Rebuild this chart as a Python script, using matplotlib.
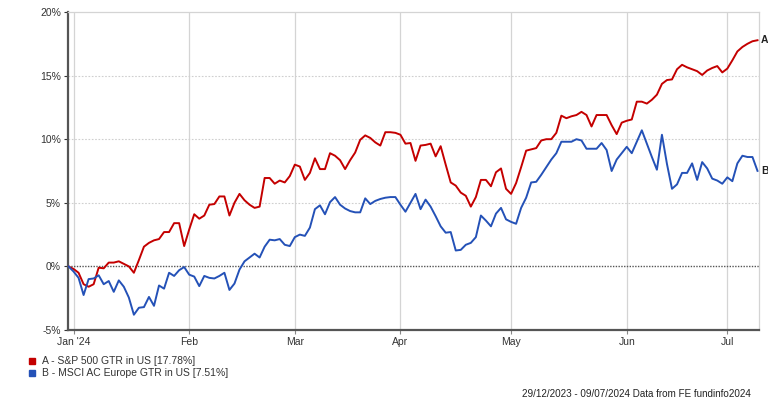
import numpy as np
import pandas as pd
import matplotlib
matplotlib.use('Agg')
import matplotlib.pyplot as plt
from matplotlib.patches import Rectangle

plt.rcParams['font.family'] = ['Liberation Sans', 'DejaVu Sans']

# weekday series, 29/12/2023 .. 09/07/2024
dates = pd.bdate_range('2023-12-29', '2024-07-09')

sp500 = [
    0.0, -0.2, -0.5, -1.4, -1.6, -1.4, -0.1, -0.15, 0.3, 0.3,
    0.4, 0.2, 0.0, -0.5, 0.5, 1.55, 1.85, 2.05, 2.15, 2.7,
    2.7, 3.4, 3.4, 1.6, 2.9, 4.1, 3.75, 4.0, 4.85, 4.9,
    5.5, 5.5, 4.0, 5.0, 5.7, 5.2, 4.85, 4.6, 4.7, 6.95,
    6.95, 6.5, 6.75, 6.6, 7.1, 8.0, 7.85, 6.8, 7.35, 8.5,
    7.65, 7.65, 8.9, 8.7, 8.35, 7.65, 8.35, 8.95, 9.95, 10.3,
    10.1, 9.75, 9.5, 10.55, 10.55, 10.5, 10.35, 9.65, 9.7, 8.3,
    9.5, 9.55, 9.65, 8.65, 9.45, 8.0, 6.6, 6.35, 5.8, 5.55,
    4.7, 5.45, 6.8, 6.8, 6.3, 7.4, 7.7, 6.1, 5.7, 6.55,
    7.8, 9.1, 9.2, 9.3, 9.9, 10.0, 10.0, 10.5, 11.85, 11.65,
    11.8, 11.9, 12.15, 11.9, 11.0, 11.9, 11.9, 11.9, 11.1, 10.4,
    11.3, 11.45, 11.55, 12.95, 12.95, 12.8, 13.1, 13.5, 14.35, 14.65,
    14.7, 15.5, 15.85, 15.65, 15.5, 15.35, 15.05, 15.4, 15.6, 15.75,
    15.25, 15.55, 16.2, 16.9, 17.25, 17.5, 17.7, 17.78,
]

msci_europe = [
    0.0, -0.4, -0.9, -2.25, -1.0, -0.95, -0.7, -1.4, -1.15, -2.0,
    -1.1, -1.6, -2.45, -3.8, -3.25, -3.2, -2.4, -3.1, -1.5, -1.75,
    -0.5, -0.75, -0.3, -0.05, -0.65, -0.8, -1.55, -0.75, -0.9, -0.95,
    -0.75, -0.5, -1.85, -1.35, -0.25, 0.4, 0.7, 1.0, 0.7, 1.55,
    2.1, 2.05, 2.15, 1.7, 1.6, 2.3, 2.5, 2.4, 3.05, 4.5,
    4.8, 4.1, 5.05, 5.45, 4.85, 4.55, 4.35, 4.25, 4.25, 5.35,
    4.9, 5.15, 5.3, 5.4, 5.45, 5.45, 4.85, 4.3, 5.0, 5.7,
    4.5, 5.25, 4.7, 3.95, 3.15, 2.65, 2.7, 1.25, 1.3, 1.7,
    1.85, 2.3, 4.0, 3.6, 3.15, 4.15, 4.6, 3.7, 3.5, 3.35,
    4.6, 5.4, 6.6, 6.65, 7.2, 7.8, 8.4, 8.9, 9.8, 9.8,
    9.8, 10.0, 9.9, 9.25, 9.25, 9.25, 9.7, 9.15, 7.5, 8.4,
    8.9, 9.4, 8.9, 9.8, 10.7, 9.65, 8.6, 7.6, 10.35, 8.05,
    6.1, 6.45, 7.35, 7.35, 8.1, 6.8, 8.2, 7.7, 6.9, 6.75,
    6.5, 7.0, 6.7, 8.1, 8.7, 8.6, 8.6, 7.51,
]

month_labels = ["Jan '24", 'Feb', 'Mar', 'Apr', 'May', 'Jun', 'Jul']
y_ticks = [-5, 0, 5, 10, 15, 20]

red = '#c40000'
blue = '#2451b7'

x = np.arange(len(dates))
month_pos = [int(np.argmax((dates.month == m) & (dates.year == 2024))) for m in range(1, 8)]

fig = plt.figure(figsize=(7.68, 3.99), dpi=100)
ax = fig.add_axes([68 / 768, 1 - 330 / 399, 691 / 768, 318 / 399])

for p in month_pos:
    ax.axvline(p, color='#d4d4d4', lw=0.9, zorder=1)
for v in [5, 10, 15]:
    ax.axhline(v, color='#cfcfcf', lw=0.8, ls=(0, (1.5, 1.5)), zorder=1)
ax.axhline(0, color='#555555', lw=1.0, ls=(0, (1, 1)), zorder=2)

ax.plot(x, sp500, color=red, lw=1.4, zorder=3)
ax.plot(x, msci_europe, color=blue, lw=1.4, zorder=3)

ax.set_xlim(-0.1, 137.3)
ax.set_ylim(-5, 20)
ax.set_yticks(y_ticks)
ax.set_yticklabels([f'{v}%' for v in y_ticks])
ax.set_xticks(month_pos)
ax.set_xticklabels(month_labels)
ax.tick_params(axis='both', labelsize=7.5, colors='#333333', length=3, width=0.8, pad=2)
ax.tick_params(axis='x', color='#888888')

for s in ['left', 'bottom']:
    ax.spines[s].set_color('#555555')
    ax.spines[s].set_linewidth(1.6)
for s in ['top', 'right']:
    ax.spines[s].set_color('#d4d4d4')
    ax.spines[s].set_linewidth(0.9)

ax.text(1.003, (sp500[-1] + 5) / 25, 'A', transform=ax.transAxes, fontsize=7.5,
        fontweight='bold', va='center', ha='left', color='#222222')
ax.text(1.003, (msci_europe[-1] + 5) / 25, 'B', transform=ax.transAxes, fontsize=7.5,
        fontweight='bold', va='center', ha='left', color='#222222')

# legend
legend_items = [
    (red, 'A - S&P 500 GTR in US [17.78%]'),
    (blue, 'B - MSCI AC Europe GTR in US [7.51%]'),
]
for i, (c, label) in enumerate(legend_items):
    yy = 1 - (361 + i * 11.5) / 399
    fig.patches.append(Rectangle((29 / 768, yy - 3 / 399), 6 / 768, 6 / 399,
                                 transform=fig.transFigure, color=c))
    fig.text(42 / 768, yy, label, fontsize=7.5, va='center', ha='left', color='#333333')

fig.text(751 / 768, 1 - 394 / 399, '29/12/2023 - 09/07/2024 Data from FE fundinfo2024',
         fontsize=7.1, va='center', ha='right', color='#222222')

fig.savefig('out.png', dpi=100)
